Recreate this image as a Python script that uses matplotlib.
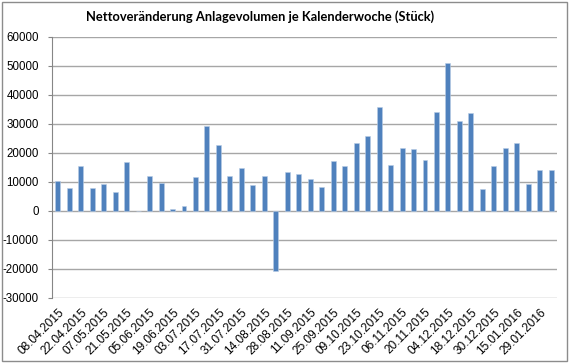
import matplotlib.pyplot as plt
import matplotlib.patches as patches

plt.rcParams['font.family'] = ['Liberation Sans', 'DejaVu Sans']

# weekly dates (every second one is shown as a label)
weeks = ['08.04.2015', '15.04.2015', '22.04.2015', '29.04.2015', '07.05.2015', '14.05.2015',
         '21.05.2015', '28.05.2015', '05.06.2015', '12.06.2015', '19.06.2015', '26.06.2015',
         '03.07.2015', '10.07.2015', '17.07.2015', '24.07.2015', '31.07.2015', '07.08.2015',
         '14.08.2015', '21.08.2015', '28.08.2015', '04.09.2015', '11.09.2015', '18.09.2015',
         '25.09.2015', '02.10.2015', '09.10.2015', '16.10.2015', '23.10.2015', '30.10.2015',
         '06.11.2015', '13.11.2015', '20.11.2015', '27.11.2015', '04.12.2015', '11.12.2015',
         '18.12.2015', '23.12.2015', '30.12.2015', '08.01.2016', '15.01.2016', '22.01.2016',
         '29.01.2016', '05.02.2016']

# net change per week (pieces)
net_change = [10500, 7900, 15600, 7900, 9300, 6400, 17000, 0, 12200, 9700, 600, 1600,
              11800, 29400, 22700, 12100, 14900, 9100, 12100, -20800, 13300, 12900,
              11200, 8300, 17200, 15500, 23300, 26000, 36000, 15700, 21700, 21500,
              17700, 34000, 51000, 31100, 33800, 7700, 15400, 21700, 23500, 9200,
              14000, 14200]

fig = plt.figure(figsize=(5.7, 3.63), dpi=100)
ax = fig.add_axes([52/570, 1-298/363, 505/570, 261/363])

x = list(range(len(weeks)))
ax.bar(x, net_change, width=0.43, color='#4F81BD', edgecolor='#B9CDE5', linewidth=0.4, zorder=3)

ax.set_xlim(-0.5, len(weeks) - 0.5)
ax.set_ylim(-30000, 60000)
ax.set_yticks(range(-30000, 60001, 10000))
ax.set_yticklabels([str(v) for v in range(-30000, 60001, 10000)], fontsize=8.3)
ax.grid(axis='y', color='#A6A6A6', linewidth=1, zorder=0)
ax.set_axisbelow(True)

ax.set_xticks(x[::2])
ax.set_xticklabels(weeks[::2], rotation=45, ha='right', rotation_mode='anchor', fontsize=8.6)
ax.tick_params(axis='x', length=0, pad=6)
ax.tick_params(axis='y', length=3, color='#868686', pad=6.5)

for s in ['top', 'right', 'bottom']:
    ax.spines[s].set_visible(False)
ax.spines['left'].set_color('#868686')

fig.text(260/570, 1-17/363, 'Nettoveränderung Anlagevolumen je Kalenderwoche (Stück)',
         ha='center', va='center', fontsize=9.3, fontweight='bold', family='Lato')

fig.patches.append(patches.Rectangle((2/570, 2/363), 565/570, 359/363, transform=fig.transFigure,
                                     fill=False, edgecolor='#8C8C8C', linewidth=1))

fig.savefig('out.png', dpi=100)
